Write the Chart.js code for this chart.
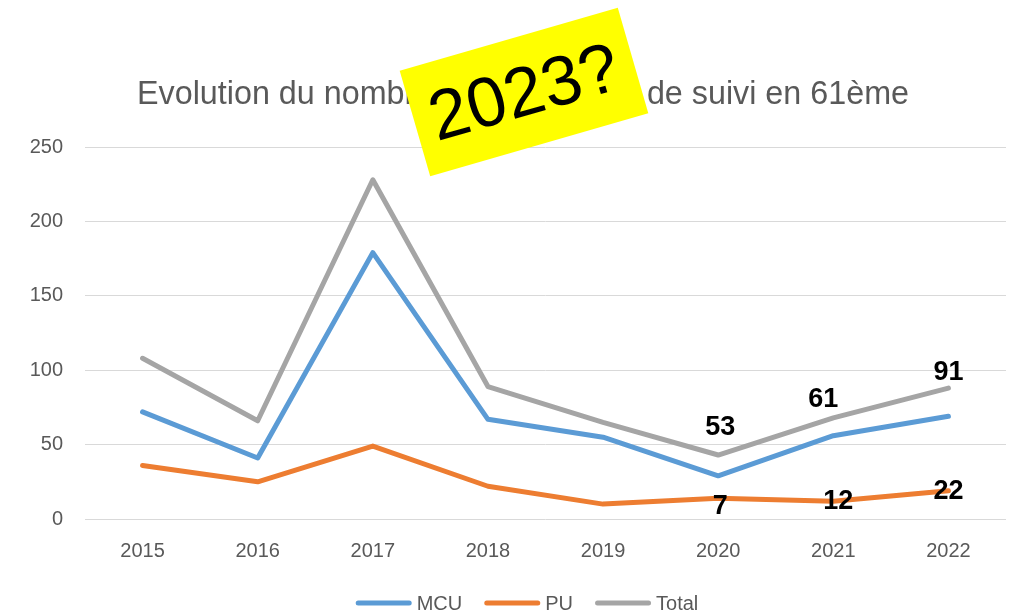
<!DOCTYPE html>
<html>
<head>
<meta charset="utf-8">
<script src="https://cdn.jsdelivr.net/npm/chart.js@4/dist/chart.umd.min.js"></script>
<style>
  html, body { margin: 0; padding: 0; background: #ffffff; }
  #wrap { width: 1013px; height: 615px; position: relative; }
</style>
</head>
<body>
<div id="wrap"><canvas id="c" width="1013" height="615"></canvas></div>
<script>
const categories = ['2015', '2016', '2017', '2018', '2019', '2020', '2021', '2022'];
const mcuValues = [72, 41, 179, 67, 55, 29, 56, 69];
const puValues = [36, 25, 49, 22, 10, 14, 12, 19];
const totalValues = [108, 66, 228, 89, 65, 43, 68, 88];
const totalLabels = [null, null, null, null, null, '53', '61', '91'];
const puLabels = [null, null, null, null, null, '7', '12', '22'];
const yTicks = [0, 50, 100, 150, 200, 250];
const titleText = 'Evolution du nombre de demandes de suivi en 61ème';
const stickyText = '2023?';

const FONT = "'Liberation Sans', Arial, sans-serif";

const titlePlugin = {
  id: 'manualTitle',
  afterDraw(chart, args, opts) {
    const ctx = chart.ctx;
    ctx.save();
    ctx.font = opts.size + 'px ' + FONT;
    ctx.fillStyle = '#595959';
    ctx.textAlign = 'center';
    ctx.textBaseline = 'alphabetic';
    ctx.fillText(titleText, opts.cx, opts.baseline);
    ctx.restore();
  }
};

const legendPlugin = {
  id: 'manualLegend',
  afterDraw(chart, args, opts) {
    const ctx = chart.ctx;
    ctx.save();
    ctx.font = opts.size + 'px ' + FONT;
    const items = chart.data.datasets.map(d => ({ text: d.label, color: d.borderColor, tw: ctx.measureText(d.label).width }));
    let total = 0;
    items.forEach((it, i) => { total += opts.lineW + opts.gap + it.tw + (i < items.length - 1 ? opts.itemGap : 0); });
    let x = opts.cx - total / 2;
    items.forEach(it => {
      ctx.strokeStyle = it.color;
      ctx.lineWidth = 5;
      ctx.lineCap = 'round';
      ctx.beginPath();
      ctx.moveTo(x + 2.5, opts.cy);
      ctx.lineTo(x + opts.lineW - 2.5, opts.cy);
      ctx.stroke();
      x += opts.lineW + opts.gap;
      ctx.fillStyle = '#595959';
      ctx.textAlign = 'left';
      ctx.textBaseline = 'middle';
      ctx.fillText(it.text, x, opts.cy + 1);
      x += it.tw + opts.itemGap;
    });
    ctx.restore();
  }
};

const labelPlugin = {
  id: 'manualLabels',
  afterDatasetsDraw(chart, args, opts) {
    const ctx = chart.ctx;
    const x = chart.scales.x, y = chart.scales.y;
    ctx.save();
    ctx.font = 'bold 27px ' + FONT;
    ctx.fillStyle = '#000000';
    ctx.textAlign = 'center';
    ctx.textBaseline = 'middle';
    opts.sets.forEach(set => {
      set.labels.forEach((t, i) => {
        if (!t) return;
        const off = set.offsets[i] || [0, 0];
        ctx.fillText(t, x.getPixelForValue(i) + off[0], y.getPixelForValue(set.values[i]) + off[1]);
      });
    });
    ctx.restore();
  }
};

const stickyPlugin = {
  id: 'sticky',
  afterDraw(chart, args, opts) {
    const ctx = chart.ctx;
    ctx.save();
    ctx.translate(opts.cx, opts.cy);
    ctx.rotate(opts.angle * Math.PI / 180);
    ctx.fillStyle = '#FFFF00';
    ctx.fillRect(-opts.w / 2, -opts.h / 2, opts.w, opts.h);
    ctx.fillStyle = '#000000';
    ctx.font = opts.fontSize + 'px ' + FONT;
    ctx.textAlign = 'center';
    ctx.textBaseline = 'middle';
    ctx.fillText(stickyText, 0, 4);
    ctx.restore();
  }
};

new Chart(document.getElementById('c'), {
  type: 'line',
  data: {
    labels: categories,
    datasets: [
      { label: 'MCU', data: mcuValues, borderColor: '#5B9BD5', backgroundColor: '#5B9BD5' },
      { label: 'PU', data: puValues, borderColor: '#ED7D31', backgroundColor: '#ED7D31' },
      { label: 'Total', data: totalValues, borderColor: '#A5A5A5', backgroundColor: '#A5A5A5' }
    ].map(d => Object.assign(d, {
      borderWidth: 5, pointRadius: 0, pointHoverRadius: 0, tension: 0,
      borderCapStyle: 'round', borderJoinStyle: 'round', fill: false
    }))
  },
  options: {
    responsive: false,
    animation: false,
    devicePixelRatio: 1,
    layout: { padding: { left: 0, right: 7, top: 147, bottom: 32 } },
    plugins: {
      title: { display: false },
      legend: { display: false },
      tooltip: { enabled: false },
      manualTitle: { cx: 523, baseline: 104, size: 32.3 },
      manualLegend: { cx: 527, cy: 603, size: 20, lineW: 56, gap: 5, itemGap: 22 },
      manualLabels: {
        sets: [
          { values: totalValues, labels: totalLabels, offsets: [null, null, null, null, null, [2, -27], [-10, -18], [0, -16]] },
          { values: puValues, labels: puLabels, offsets: [null, null, null, null, null, [2, 8], [5, 0], [0, 1]] }
        ]
      },
      sticky: { cx: 524, cy: 92, w: 227, h: 110, angle: -16.1, fontSize: 70 }
    },
    scales: {
      x: {
        offset: true,
        grid: { display: false, drawTicks: false },
        border: { display: false },
        ticks: { color: '#595959', font: { family: FONT, size: 20 }, padding: 20 }
      },
      y: {
        min: 0, max: 250,
        afterFit(scale) { scale.width = 85; },
        afterBuildTicks(scale) { scale.ticks = yTicks.map(v => ({ value: v })); },
        grid: { color: '#D9D9D9', lineWidth: 1, drawTicks: false },
        border: { display: false },
        ticks: { color: '#595959', font: { family: FONT, size: 20 }, padding: 22 }
      }
    }
  },
  plugins: [labelPlugin, titlePlugin, legendPlugin, stickyPlugin]
});
</script>
</body>
</html>
